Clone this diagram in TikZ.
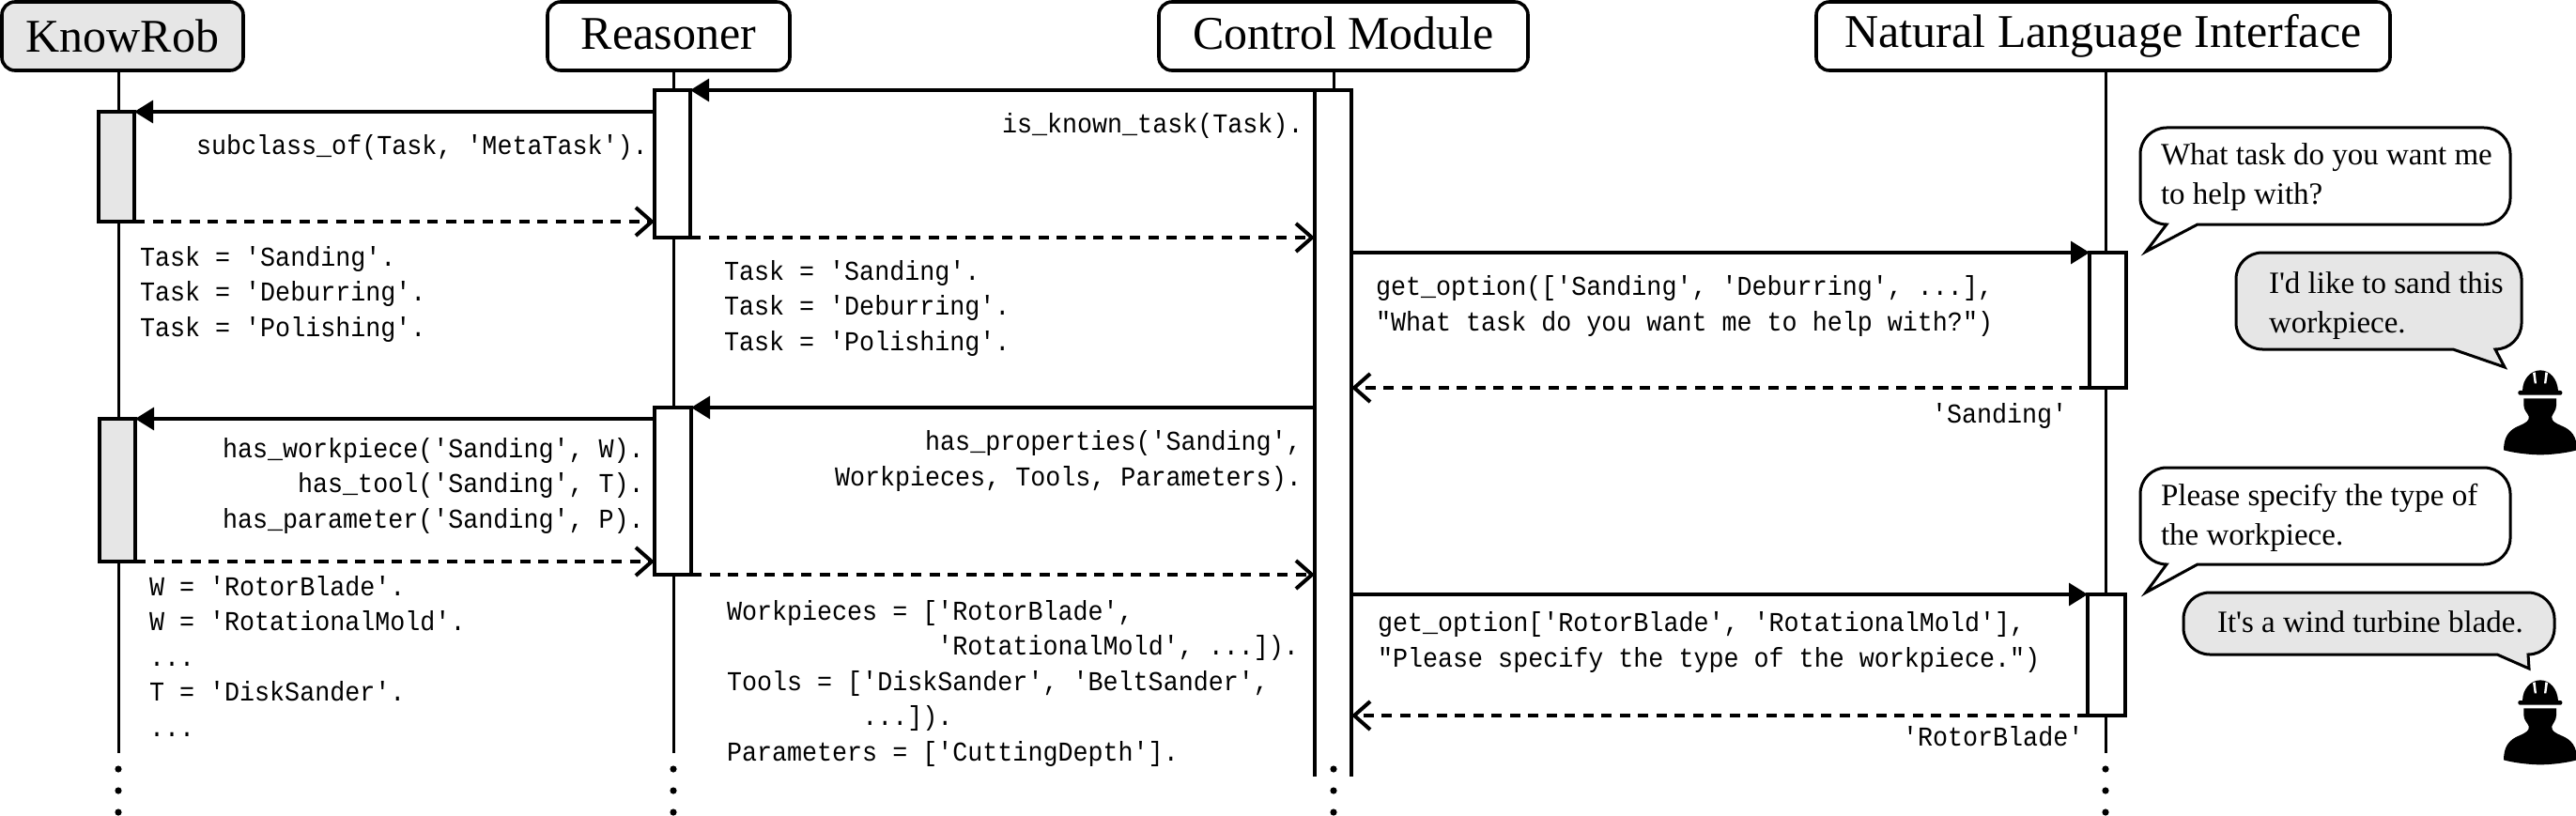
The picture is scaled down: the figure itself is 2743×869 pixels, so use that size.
\documentclass[tikz,border=0pt]{standalone}
\usepackage{fontspec}
\usetikzlibrary{arrows.meta,calc}
\setmainfont{Liberation Serif}
\newfontfamily\codefont[FakeStretch=0.921]{Liberation Mono}
\newfontfamily\plainserif{Liberation Serif}
\definecolor{shade}{HTML}{E6E6E6}
\tikzset{
  x=1pt,y=-1pt,
  headbox/.style={draw,line width=3.6pt,rounded corners=14pt,inner sep=0pt,outer sep=0pt,align=center,font=\plainserif\fontsize{50}{55}\selectfont},
  actbox/.style={draw,line width=3.4pt,fill=white,inner sep=0pt,outer sep=0pt},
  lifeline/.style={line width=3pt},
  call/.style={line width=3.2pt,-{Triangle[length=20pt,width=24pt]}},
  reply/.style={line width=3.2pt,dash pattern=on 11pt off 8.5pt,-{Straight Barb[length=17pt,width=30pt,line width=4pt]}},
  code/.style={inner sep=0pt,outer sep=0pt,anchor=base west,align=left,font=\codefont\fontsize{29}{37.5}\selectfont},
  say/.style={inner sep=0pt,outer sep=0pt,anchor=base west,align=left,font=\plainserif\fontsize{33}{42}\selectfont},
  bubble/.style={draw,line width=3pt,line join=miter},
  dotmark/.style={fill=black,draw=none},
}
\newcommand{\header}[9]{% name x1 y1 x2 y2 fill height depth text
  \node[headbox,fill=#6,minimum width={(#4-#2)*1pt},minimum height={(#5-#3)*1pt},text height=#7pt,text depth=#8pt] (#1) at ({(#2+#4)/2},{(#3+#5)/2}) {#9};}
\newcommand{\act}[6]{% name x1 y1 x2 y2 fill
  \node[actbox,fill=#6,minimum width={(#4-#2)*1pt},minimum height={(#5-#3)*1pt}] (#1) at ({(#2+#4)/2},{(#3+#5)/2}) {};}
\newcommand{\speech}[8]{% x1 y1 x2 y2 tailA tipx tipy tailB (fill via \bfill)
  \draw[bubble,fill=\bfill] ({#1+28},#4) -- (#5,#4) -- (#6,#7) -- (#8,#4) -- ({#3-28},#4)
    arc[start angle=-90,end angle=0,radius=28pt] -- (#3,{#2+28})
    arc[start angle=0,end angle=90,radius=28pt] -- ({#1+28},#2)
    arc[start angle=90,end angle=180,radius=28pt] -- (#1,{#4-28})
    arc[start angle=180,end angle=270,radius=28pt] -- cycle;}
\newcommand{\worker}[1]{%
  \begin{scope}[shift={(2640,#1)},x=0.3333pt,y=-0.3333pt]
    \fill (142,118) -- (246,118) -- (246,140) .. controls (246,155) and (236,165) .. (232,175) .. controls (230,190) and (240,195) .. (262,205) .. controls (295,218) and (312,240) .. (312,283) .. controls (280,292) and (230,298) .. (195,298) .. controls (160,298) and (110,292) .. (78,283) .. controls (78,240) and (95,218) .. (128,205) .. controls (150,195) and (160,190) .. (158,175) .. controls (154,165) and (142,155) .. (142,140) -- cycle;
    \fill (138,95) .. controls (138,55) and (165,28) .. (195,28) .. controls (225,28) and (250,55) .. (252,95) -- cycle;
    \fill[white] (171,36) -- (176,70) -- (183,70) -- (179,34) -- cycle;
    \fill[white] (219,36) -- (214,70) -- (207,70) -- (211,34) -- cycle;
    \fill[rounded corners=2pt] (124,93) rectangle (265,107);
  \end{scope}}
\begin{document}
\begin{tikzpicture}
\useasboundingbox (0,0) rectangle (2743,869);
% lifeline ends
\coordinate (krEnd) at (126,802);
\coordinate (reEnd) at (717,802);
\coordinate (ctTop) at (1420,75);
\coordinate (nlEnd) at (2242,802);
% headers
\header{kr}{2}{2}{259}{75}{shade}{40}{6}{KnowRob}
\header{re}{583}{2}{841}{75}{white}{36}{8}{Reasoner}
\header{ct}{1234}{2}{1627}{75}{white}{36}{8}{Control Module}
\header{nl}{1934}{2}{2545}{75}{white}{34}{10}{Natural Language Interface}
% lifelines
\draw[lifeline] (kr.south -| krEnd) -- (krEnd);
\draw[lifeline] (re.south -| reEnd) -- (reEnd);
\draw[lifeline] (nl.south -| nlEnd) -- (nlEnd);
% activations
\act{kra}{105}{119}{143}{236}{shade}
\act{krb}{106}{446}{144}{598}{shade}
\act{rea}{697}{96}{735}{253}{white}
\act{reb}{697}{434}{736}{612}{white}
\act{nla}{2225}{269}{2264}{413}{white}
\act{nlb}{2223}{633}{2263}{762}{white}
% control module activation, open at the bottom
\node[inner sep=0pt,outer sep=0pt,minimum width=39pt,minimum height=731pt] (cta) at (1419.5,461.5) {};
\draw[lifeline] (ct.south -| ctTop) -- (ctTop |- cta.north);
\draw[line width=3.4pt] (cta.south west) -- (cta.north west) -- (cta.north east) -- (cta.south east);
% messages
\draw[call] (cta.north west) -- (rea.north east);
\draw[call] (rea.west |- kra.north) -- (kra.north east);
\draw[reply] (kra.south east) -- (kra.south east -| rea.west);
\draw[reply] (rea.south east) -- (rea.south east -| cta.west);
\draw[call] (cta.east |- nla.north) -- (nla.north west);
\draw[reply] (nla.south west) -- (cta.east |- nla.south);
\draw[call] (cta.west |- reb.north) -- (reb.north east);
\draw[call] (reb.west |- krb.north) -- (krb.north east);
\draw[reply] (krb.south east) -- (krb.south east -| reb.west);
\draw[reply] (reb.south east) -- (reb.south east -| cta.west);
\draw[call] (cta.east |- nlb.north) -- (nlb.north west);
\draw[reply] (nlb.south west) -- (cta.east |- nlb.south);
% continuation dots
\foreach \px in {126,717,1420,2242}
  \foreach \py in {819,842,865}
    \fill[dotmark] (\px,\py) circle[radius=3.6pt];
% code labels (each node is placed by the baseline of its last line)
\node[code] (t1) at (209,165) {subclass\_of(Task, 'MetaTask').};
\node[code] (t2) at (149,358) {Task = 'Sanding'.\\Task = 'Deburring'.\\Task = 'Polishing'.};
\node[code] (t3) at (1067,142) {is\_known\_task(Task).};
\node[code] (t4) at (771,373) {Task = 'Sanding'.\\Task = 'Deburring'.\\Task = 'Polishing'.};
\node[code] (t5) at (237,562) {has\_workpiece('Sanding', W).\\~~~~~has\_tool('Sanding', T).\\has\_parameter('Sanding', P).};
\node[code] (t6) at (159,784) {W = 'RotorBlade'.\\W = 'RotationalMold'.\\...\\T = 'DiskSander'.\\...};
\node[code] (t7) at (889,517) {~~~~~~has\_properties('Sanding',\\Workpieces, Tools, Parameters).};
\node[code] (t8) at (774,810) {Workpieces = ['RotorBlade',\\~~~~~~~~~~~~~~'RotationalMold', ...]).\\Tools = ['DiskSander', 'BeltSander',\\~~~~~~~~~...]).\\Parameters = ['CuttingDepth'].};
\node[code] (t9) at (1465,352) {get\_option(['Sanding', 'Deburring', ...],\\"What task do you want me to help with?")};
\node[code] (t10) at (2057,450) {'Sanding'};
\node[code] (t11) at (1467,710) {get\_option['RotorBlade', 'RotationalMold'],\\"Please specify the type of the workpiece.")};
\node[code] (t12) at (2026,794) {'RotorBlade'};
% speech bubbles
\def\bfill{white}
\speech{2279}{136}{2673}{239}{2307}{2285}{268}{2340}
\node[say] (s1) at (2301,218) {What task do you want me\\to help with?};
\def\bfill{shade}
\speech{2381}{269}{2685}{372}{2612}{2667}{391}{2657}
\node[say] (s2) at (2416,354) {I'd like to sand this\\workpiece.};
\def\bfill{white}
\speech{2279}{498}{2673}{601}{2307}{2285}{631}{2340}
\node[say] (s3) at (2301,580) {Please specify the type of\\the workpiece.};
\def\bfill{shade}
\speech{2325}{631}{2720}{697}{2659}{2693}{712}{2692}
\node[say] (s4) at (2361,673) {It's a wind turbine blade.};
% operators
\worker{385}
\worker{715}
\end{tikzpicture}
\end{document}
